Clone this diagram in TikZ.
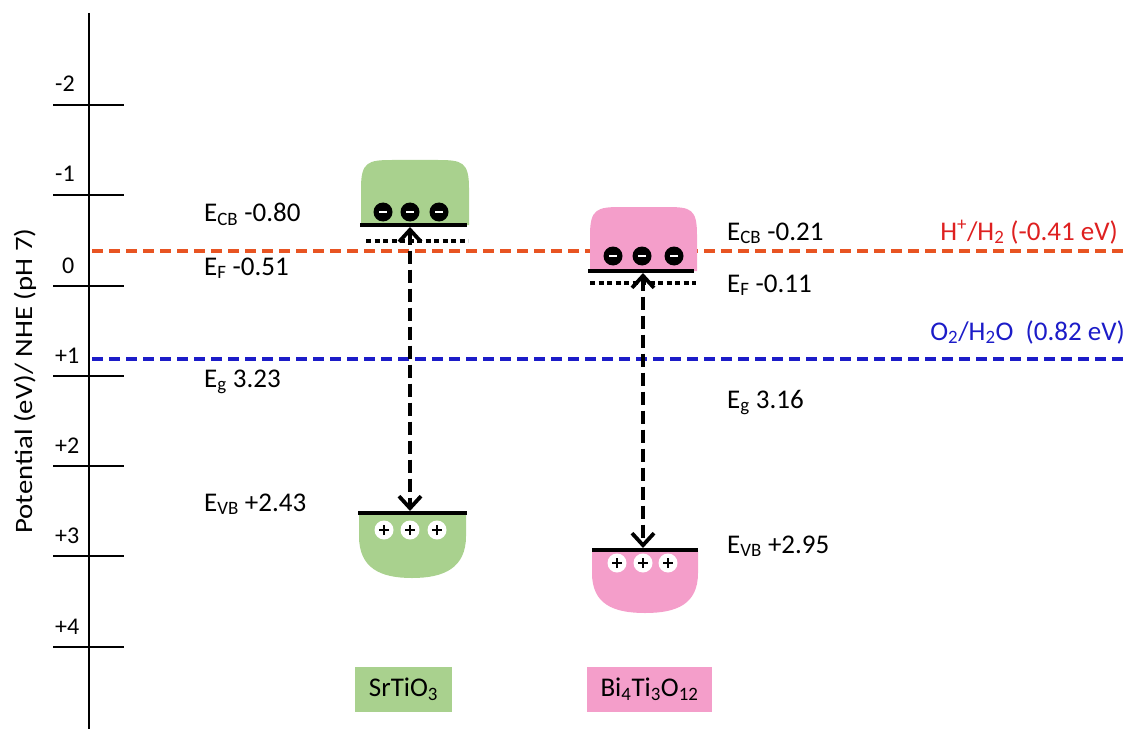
\documentclass[tikz,border=0pt]{standalone}
\usepackage{fontspec}
\setmainfont{Carlito}
\usetikzlibrary{arrows.meta}

\definecolor{bandgreen}{RGB}{169,209,142}
\definecolor{bandpink}{RGB}{244,158,202}
\definecolor{hdash}{RGB}{232,84,34}
\definecolor{htext}{RGB}{222,32,32}
\definecolor{odash}{RGB}{28,28,200}

\tikzset{
  axisline/.style={line width=1.8pt},
  tickline/.style={line width=1.6pt},
  ticklabel/.style={anchor=base west, inner sep=0, font=\fontsize{24}{28}\selectfont},
  levellabel/.style={anchor=base west, inner sep=0, font=\fontsize{27}{30}\selectfont},
  bandedge/.style={line width=3.2pt},
  fermilevel/.style={line width=3.5pt, dash pattern=on 5pt off 3.5pt},
  transfer/.style={line width=3.8pt, dash pattern=on 13pt off 6pt,
    {Straight Barb[length=12pt,width=22pt,line width=3.8pt]}-{Straight Barb[length=12pt,width=22pt,line width=3.8pt]},
    shorten <=1pt, shorten >=1pt},
  hline/.style={hdash, line width=3.4pt, dash pattern=on 11pt off 6pt},
  oline/.style={odash, line width=3.4pt, dash pattern=on 11pt off 6pt},
  electron/.style={circle, fill=black, minimum size=19pt, inner sep=0,
    path picture={\draw[white, line width=2.4pt]
      ([xshift=-4pt]path picture bounding box.center) -- ([xshift=4pt]path picture bounding box.center);}},
  hole/.style={circle, fill=white, minimum size=19pt, inner sep=0,
    path picture={\draw[black, line width=2.5pt]
      ([xshift=-5pt]path picture bounding box.center) -- ([xshift=5pt]path picture bounding box.center)
      ([yshift=-5pt]path picture bounding box.center) -- ([yshift=5pt]path picture bounding box.center);}},
  namebox/.style={minimum height=45pt, inner sep=0, font=\fontsize{27}{30}\selectfont},
}

\begin{document}
\begin{tikzpicture}[x=1pt, y=-1pt]
\useasboundingbox (0,0) rectangle (1129,730);

% potential axis
\coordinate (axtop) at (89,13);
\coordinate (axbot) at (89,729);
\draw[axisline] (axtop) -- (axbot);
\foreach \yy/\lab/\lx in {105/-2/55, 195/-1/55, 286/0/62, 376/+1/55, 466/+2/55, 556/+3/55, 647/+4/55} {
  \draw[tickline] (53,\yy) -- (124,\yy);
  \node[ticklabel] at (\lx,\yy-13) {\lab};
}
\node[rotate=90, inner sep=0] (axlabel) at (25,381)
  {\scalebox{1.15}[1]{\fontsize{25}{28}\selectfont Potential (eV)/ NHE (pH 7)}};

% redox levels
\coordinate (hL) at (92,251);  \coordinate (hR) at (1129,251);
\coordinate (oL) at (92,359);  \coordinate (oR) at (1129,359);
\draw[hline] (hL) -- (hR);
\draw[oline] (oL) -- (oR);
\node[anchor=base east, inner sep=0, text=htext, font=\fontsize{27}{30}\selectfont] (hlab) at (1118,240)
  {H\textsuperscript{+}/H\textsubscript{2} (-0.41 eV)};
\node[anchor=base east, inner sep=0, text=odash, font=\fontsize{27}{30}\selectfont] (olab) at (1125,340)
  {O\textsubscript{2}/H\textsubscript{2}O\ \ (0.82 eV)};

% SrTiO3 bands
\fill[bandgreen] (361,225) -- (361,188) .. controls (361,162) and (368,160) .. (392,160)
  -- (438,160) .. controls (462,160) and (469,162) .. (469,188) -- (469,225) -- cycle;
\fill[bandgreen] (359,513) -- (359,536) .. controls (359,568) and (380,578) .. (412,578)
  .. controls (444,578) and (466,568) .. (466,536) -- (466,513) -- cycle;
\coordinate (srCB) at (410,226);
\coordinate (srVB) at (410,512);
\draw[fermilevel] (366,241) -- (468,241);
\draw[bandedge] (360,225) -- (467,225);
\draw[bandedge] (358,513) -- (467,513);
\node[electron] (se1) at (383,212) {};
\node[electron] (se2) at (410,212) {};
\node[electron] (se3) at (439,212) {};
\node[hole] (sh1) at (384,530) {};
\node[hole] (sh2) at (410,530) {};
\node[hole] (sh3) at (437,530) {};
\draw[transfer] (srCB) -- (srVB);

% Bi4Ti3O12 bands
\fill[bandpink] (590,271) -- (590,235) .. controls (590,209) and (597,207) .. (621,207)
  -- (667,207) .. controls (691,207) and (697,209) .. (697,235) -- (697,271) -- cycle;
\fill[bandpink] (592,550) -- (592,573) .. controls (592,604) and (613,613) .. (645,613)
  .. controls (677,613) and (698,604) .. (698,573) -- (698,550) -- cycle;
\coordinate (btCB) at (643,272);
\coordinate (btVB) at (643,549);
\draw[fermilevel] (590,283) -- (696,283);
\draw[bandedge] (588,271) -- (694,271);
\draw[bandedge] (592,550) -- (698,550);
\node[electron] (be1) at (613,256) {};
\node[electron] (be2) at (642,256) {};
\node[electron] (be3) at (674,256) {};
\node[hole] (bh1) at (617,563) {};
\node[hole] (bh2) at (643,563) {};
\node[hole] (bh3) at (668,563) {};
\draw[transfer] (btCB) -- (btVB);

% level values
\node[levellabel] (sCB) at (204,222) {E\textsubscript{CB} -0.80};
\node[levellabel] (sF)  at (204,275) {E\textsubscript{F} -0.51};
\node[levellabel] (sG)  at (204,387) {E\textsubscript{g} 3.23};
\node[levellabel] (sVB) at (204,511) {E\textsubscript{VB} +2.43};
\node[levellabel] (bCB) at (727,240) {E\textsubscript{CB} -0.21};
\node[levellabel] (bF)  at (727,292) {E\textsubscript{F} -0.11};
\node[levellabel] (bG)  at (727,408) {E\textsubscript{g} 3.16};
\node[levellabel] (bVB) at (727,553) {E\textsubscript{VB} +2.95};

% material names
\node[namebox, fill=bandgreen, minimum width=97pt] (srname) at (403.5,689.5) {SrTiO\textsubscript{3}};
\node[namebox, fill=bandpink, minimum width=125pt] (btname) at (649.5,689.5) {Bi\textsubscript{4}Ti\textsubscript{3}O\textsubscript{12}};
\end{tikzpicture}
\end{document}
